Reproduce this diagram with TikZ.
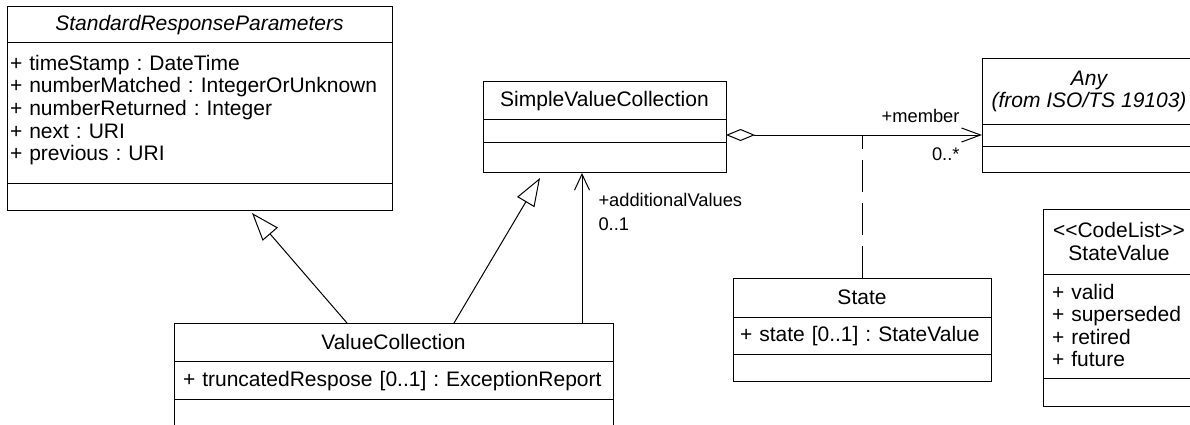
\documentclass[tikz,border=0pt]{standalone}
\usepackage{fontspec}
\setmainfont{Liberation Sans}
\frenchspacing
\usepackage{tikz}
\usetikzlibrary{arrows.meta,positioning,calc}

\begin{document}
\begin{tikzpicture}[x=1pt, y=-1pt, line width=1pt,
    cname/.style={draw, anchor=north west, inner sep=0pt, outer sep=0pt, align=center, font=\fontsize{21}{22.5}\selectfont},
    cattr/.style={draw, anchor=north west, inner ysep=0pt, outer sep=0pt, align=left, font=\fontsize{21}{22.5}\selectfont},
    cops/.style={draw, anchor=north west, inner sep=0pt, outer sep=0pt},
    role/.style={inner sep=0pt, font=\fontsize{18.3}{22}\selectfont},
    inherit/.style={-{Triangle[open, length=28pt, width=20pt]}},
    assoc/.style={-{Straight Barb[length=16pt, width=15pt]}}]
    \useasboundingbox (0,0) rectangle (1190,425);

    % StandardResponseParameters
    \node[cname, minimum width=385, minimum height=36, font=\fontsize{21}{22.5}\selectfont\itshape] (srp) at (7,7) {StandardResponseParameters};
    \node[cattr, inner xsep=3pt, text width=379pt, text height=27.5pt, text depth=112.5pt] (srpattr) at (srp.south west) {+ timeStamp : DateTime\\+ numberMatched : IntegerOrUnknown\\+ numberReturned : Integer\\+ next : URI\\+ previous : URI};
    \node[cops, minimum width=385, minimum height=27] (srpops) at (srpattr.south west) {};

    % ValueCollection
    \node[cname, minimum width=439, minimum height=38] (vc) at (174,323) {ValueCollection};
    \node[cattr, inner xsep=9pt, text width=421pt, text height=25pt, text depth=13pt] (vcattr) at (vc.south west) {+ truncatedRespose [0..1] : ExceptionReport};
    \node[cops, minimum width=439, minimum height=38] (vcops) at (vcattr.south west) {};

    % SimpleValueCollection
    \node[cname, minimum width=243, minimum height=38] (svc) at (483,82) {SimpleValueCollection};
    \node[cops, minimum width=243, minimum height=22] (svcattr) at (svc.south west) {};
    \node[cops, minimum width=243, minimum height=30] (svcops) at (svcattr.south west) {};

    % Any
    \node[cname, minimum width=214, minimum height=65, font=\fontsize{21}{22.5}\selectfont\itshape] (any) at (982,59) {Any\\(from ISO/TS 19103)};
    \node[cops, minimum width=214, minimum height=22] (anyattr) at (any.south west) {};
    \node[cops, minimum width=214, minimum height=26] (anyops) at (anyattr.south west) {};

    % State
    \node[cname, minimum width=258, minimum height=39] (state) at (733,278) {State};
    \node[cattr, inner xsep=7pt, text width=244pt, text height=24pt, text depth=13pt] (stateattr) at (state.south west) {+ state [0..1] : StateValue};
    \node[cops, minimum width=258, minimum height=27] (stateops) at (stateattr.south west) {};

    % StateValue
    \node[cname, minimum width=152, minimum height=65] (sv) at (1043,209) {<{}<CodeList>{}>\\StateValue};
    \node[cattr, inner xsep=9pt, text width=134pt, text height=25pt, text depth=79pt] (svattr) at (sv.south west) {+ valid\\+ superseded\\+ retired\\+ future};
    \node[cops, minimum width=152, minimum height=28] (svops) at (svattr.south west) {};

    % connectors
    \draw[inherit] ([xshift=173pt]vc.north west) -- ([shift={(245,3)}]srpops.south west);
    \draw[inherit] ([xshift=280pt]vc.north west) -- ([shift={(57,6)}]svcops.south west);
    \draw[assoc] ([xshift=408pt]vc.north west) -- ([shift={(99,1)}]svcops.south west);
    \draw[{Diamond[open, length=29pt, width=12pt]}-{Straight Barb[length=19pt, width=14pt]}] (svcattr.east |- anyattr.west) -- (anyattr.west);
    \draw[dash pattern=on 32pt off 11pt] (state.north) -- (state.north |- anyattr.west);

    % role names
    \node[role, anchor=base west] (addval) at (598,206.5) {+additionalValues};
    \node[role, anchor=base west] (addmult) at (598,230) {0..1};
    \node[role, anchor=base east] (member) at (960,123) {+member};
    \node[role, anchor=base east] (membermult) at (960,160.5) {0..*};
\end{tikzpicture}
\end{document}
